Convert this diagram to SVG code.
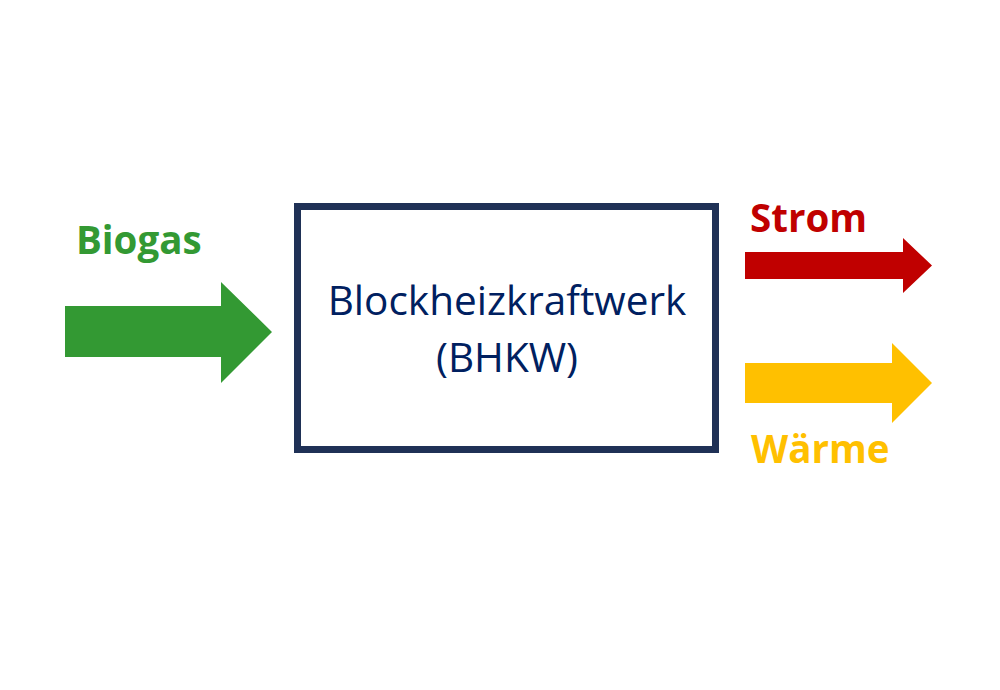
<svg xmlns="http://www.w3.org/2000/svg" width="1000" height="690" viewBox="0 0 1000 690">
<style>
.lbl{font-family:"Open Sans","Liberation Sans",sans-serif;font-weight:bold;font-size:38.5px}
.main{font-family:"Open Sans","Liberation Sans",sans-serif;font-size:40.5px;fill:#002060;text-anchor:middle}
</style>
<rect width="1000" height="690" fill="#ffffff"/>
<g id="bhkw">
<rect x="297.5" y="206.5" width="418" height="243" fill="#ffffff" stroke="#1f3156" stroke-width="7"/>
<text class="main" x="507" y="315">Blockheizkraftwerk</text>
<text class="main" x="507" y="372">(BHKW)</text>
</g>
<g id="connectors">
<polygon id="biogas-arrow" points="65,306 221,306 221,282 272,332 221,383 221,357 65,357" fill="#339933"/>
<polygon id="strom-arrow" points="745,252 903,252 903,238 932,265.5 903,293 903,279 745,279" fill="#c00000"/>
<polygon id="waerme-arrow" points="745,363 892,363 892,343 932,383 892,423 892,403 745,403" fill="#ffc000"/>
</g>
<g id="biogas"><text class="lbl" x="76" y="254" fill="#339933">Biogas</text></g>
<g id="strom"><text class="lbl" x="750" y="232" fill="#c00000">Strom</text></g>
<g id="waerme"><text class="lbl" x="751" y="463" fill="#ffc000">Wärme</text></g>
</svg>
